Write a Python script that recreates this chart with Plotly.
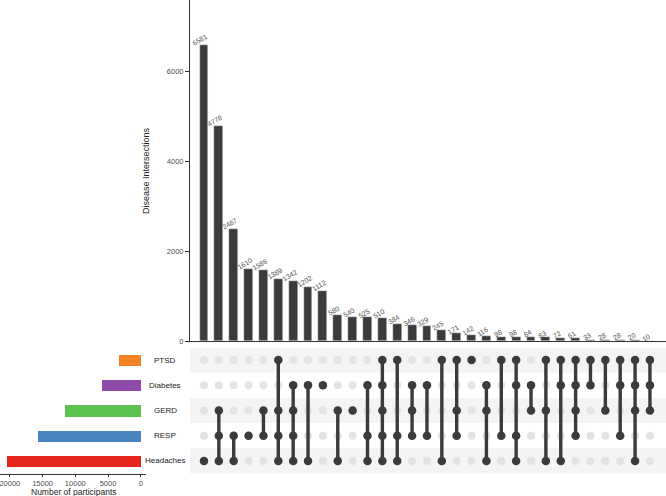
import plotly.graph_objects as go

sets = ["PTSD", "Diabetes", "GERD", "RESP", "Headaches"]
set_colors = ["#F28222", "#8F4BAA", "#5CC24F", "#4A83BF", "#E5261F"]
set_sizes = [3372, 5888, 11644, 15742, 20412]

intersection_sizes = [6581, 4778, 2487, 1610, 1586, 1389, 1342, 1202, 1112, 580,
                      540, 525, 510, 384, 346, 329, 245, 171, 142, 116,
                      98, 98, 84, 83, 72, 61, 33, 28, 28, 20, 10]

# which diseases make up each intersection (same order as the bars)
intersection_members = [
    ["Headaches"],
    ["GERD", "RESP", "Headaches"],
    ["RESP", "Headaches"],
    ["RESP"],
    ["GERD", "RESP"],
    ["PTSD", "GERD", "RESP", "Headaches"],
    ["Diabetes", "GERD", "RESP", "Headaches"],
    ["Diabetes", "Headaches"],
    ["Diabetes"],
    ["GERD", "Headaches"],
    ["GERD"],
    ["Diabetes", "RESP", "Headaches"],
    ["PTSD", "Diabetes", "GERD", "RESP", "Headaches"],
    ["PTSD", "RESP", "Headaches"],
    ["Diabetes", "GERD", "RESP"],
    ["Diabetes", "RESP"],
    ["PTSD", "Headaches"],
    ["PTSD", "GERD", "RESP"],
    ["PTSD"],
    ["Diabetes", "GERD", "Headaches"],
    ["PTSD", "RESP"],
    ["PTSD", "Diabetes", "RESP", "Headaches"],
    ["Diabetes", "GERD"],
    ["PTSD", "GERD", "Headaches"],
    ["PTSD", "Diabetes", "Headaches"],
    ["PTSD", "Diabetes", "GERD", "RESP"],
    ["PTSD", "Diabetes"],
    ["PTSD", "GERD"],
    ["PTSD", "Diabetes", "RESP"],
    ["PTSD", "Diabetes", "GERD", "Headaches"],
    ["PTSD", "Diabetes", "GERD"],
]

W, H = 666, 496
FONT = "Liberation Sans, Arial, sans-serif"
DARK = "#3b3b3b"

cols = list(range(1, len(intersection_sizes) + 1))
rows = list(range(len(sets)))

fig = go.Figure()

# intersection bars
fig.add_trace(go.Bar(
    x=cols, y=intersection_sizes, width=0.6, marker_color=DARK,
    xaxis="x", yaxis="y", showlegend=False, hoverinfo="x+y"))

# count labels, tilted like the original
for c, v in zip(cols, intersection_sizes):
    fig.add_annotation(x=c, y=v, xref="x", yref="y", text=str(v),
                       showarrow=False, textangle=-30, yanchor="bottom",
                       xanchor="center", yshift=-4.5, xshift=-3.5,
                       font=dict(size=7, color="#555555", family=FONT))

# background grey dots
gx, gy = [], []
for c in cols:
    for r in rows:
        gx.append(c)
        gy.append(r)
fig.add_trace(go.Scatter(
    x=gx, y=gy, mode="markers", marker=dict(size=8, color="#e3e3e3"),
    xaxis="x2", yaxis="y2", showlegend=False, hoverinfo="skip"))

# connecting lines and filled dots
lx, ly, dx, dy = [], [], [], []
for c, members in zip(cols, intersection_members):
    idx = [sets.index(m) for m in members]
    for r in idx:
        dx.append(c)
        dy.append(r)
    if len(idx) > 1:
        lx += [c, c, None]
        ly += [min(idx), max(idx), None]
fig.add_trace(go.Scatter(
    x=lx, y=ly, mode="lines", line=dict(color=DARK, width=3.4),
    xaxis="x2", yaxis="y2", showlegend=False, hoverinfo="skip"))
fig.add_trace(go.Scatter(
    x=dx, y=dy, mode="markers", marker=dict(size=8.5, color=DARK),
    xaxis="x2", yaxis="y2", showlegend=False, hoverinfo="skip"))

# set size bars
fig.add_trace(go.Bar(
    x=set_sizes, y=rows, orientation="h", width=0.44,
    marker=dict(color=set_colors, line=dict(width=0)),
    xaxis="x3", yaxis="y3", showlegend=False))

# stripes behind matrix rows
for r in rows[::2]:
    fig.add_shape(type="rect", xref="paper", yref="y2",
                  x0=190 / W, x1=1, y0=r - 0.5, y1=r + 0.5,
                  fillcolor="#f4f4f4", line_width=0, layer="below")

# set names
for r, name in enumerate(sets):
    fig.add_annotation(x=165 / W, y=r, xref="paper", yref="y3", text=name,
                       showarrow=False, xanchor="center",
                       font=dict(size=8, color="#222222", family=FONT))

fig.add_annotation(x=74 / W, y=(H - 492) / H, xref="paper", yref="paper",
                   text="Number of participants", showarrow=False,
                   xanchor="center", yanchor="middle",
                   font=dict(size=8.5, color="#222222", family=FONT))
fig.add_annotation(x=146 / W, y=(H - 171) / H, xref="paper", yref="paper",
                   text="Disease Intersections", showarrow=False, textangle=-90,
                   xanchor="center", yanchor="middle",
                   font=dict(size=9, color="#222222", family=FONT))

xr = [0.06, 32.08]
mat_dom = [(H - 473.5) / H, (H - 347.5) / H]
fig.update_layout(
    width=W, height=H, margin=dict(l=0, r=0, t=0, b=0),
    paper_bgcolor="white", plot_bgcolor="rgba(0,0,0,0)",
    font=dict(family=FONT, size=8, color="#4d4d4d"),
    bargap=0,
    xaxis=dict(domain=[190 / W, 1], range=xr, anchor="y", showticklabels=False,
               ticks="", showgrid=False, zeroline=False, showline=True,
               linecolor="#333333", linewidth=1, automargin=False),
    yaxis=dict(domain=[(H - 341) / H, 1], range=[0, 7580], anchor="x",
               tickvals=[0, 2000, 4000, 6000], ticks="outside", ticklen=4,
               tickcolor="#333333", showgrid=False, zeroline=False,
               showline=True, linecolor="#333333", linewidth=1,
               tickfont=dict(size=7.5, color="#4d4d4d"), automargin=False),
    xaxis2=dict(domain=[190 / W, 1], range=xr, anchor="y2", visible=False,
                automargin=False),
    yaxis2=dict(domain=mat_dom, range=[4.5, -0.5], anchor="x2", visible=False,
                automargin=False),
    xaxis3=dict(domain=[0, 146 / W], range=[21500, -800], anchor="y3",
                tickvals=[20000, 15000, 10000, 5000, 0], tickformat="d",
                ticks="outside", ticklen=2, tickcolor="#333333",
                ticklabeloverflow="allow",
                showgrid=False, zeroline=False, showline=True,
                linecolor="#333333", linewidth=1,
                tickfont=dict(size=7.5, color="#4d4d4d"), automargin=False),
    yaxis3=dict(domain=mat_dom, range=[4.5, -0.5], anchor="x3", visible=False,
                automargin=False),
)

# the page's default body margin would push the figure 8px in
fig.write_html("out.html", config={"displayModeBar": False},
               post_script="document.body.style.margin='0';")
